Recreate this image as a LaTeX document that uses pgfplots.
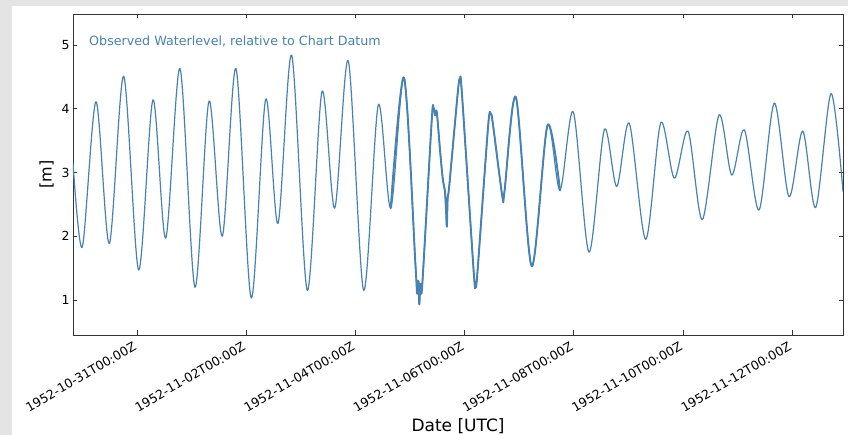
\documentclass[border=0pt]{standalone}
\usepackage{pgfplots}
\usepackage{pgfplotstable}
\pgfplotsset{compat=1.18}
\usepackage{fontspec}
\setmainfont{DejaVu Sans}
\definecolor{steel}{HTML}{4682B4}
\definecolor{bgray}{HTML}{E4E4E4}
% days since 1952-10-31T00:00Z, water level [m]
\pgfplotstableread{
d v
-1.172 3.15
-1.002 1.83
-0.751 4.11
-0.507 1.885
-0.244 4.51
0.031 1.47
0.293 4.14
0.526 1.97
0.788 4.63
1.062 1.20
1.319 4.12
1.562 2.00
1.813 4.63
2.093 1.03
2.357 4.15
2.582 2.20
2.833 4.84
3.119 1.15
3.388 4.27
3.621 2.44
3.870 4.75
4.152 1.15
4.419 4.06
4.647 2.44
4.890 4.49
5.10 1.55
5.13 1.1
5.155 1.3
5.17 0.93
5.19 1.25
5.21 1.1
5.25 1.6
5.40 3.85
5.43 4.02
5.46 3.9
5.49 3.95
5.55 3.35
5.60 2.9
5.64 2.7
5.66 2.4
5.675 2.15
5.69 2.6
5.72 2.8
5.88 4.3
5.915 4.45
5.95 4.25
6.17 1.4
6.20 1.28
6.23 1.38
6.43 3.72
6.48 3.92
6.52 3.75
6.69 2.63
6.73 2.7
6.94 4.18
7.229 1.53
7.518 3.74
7.747 2.72
7.991 3.95
8.278 1.75
8.559 3.67
8.786 2.78
9.016 3.77
9.317 1.95
9.592 3.78
9.841 2.91
10.092 3.65
10.353 2.26
10.659 3.90
10.892 2.96
11.123 3.67
11.392 2.41
11.672 4.09
11.941 2.62
12.192 3.65
12.430 2.45
12.711 4.24
12.93 2.70
}\level
% storm-surge stretch of the same record (noisy, drawn heavier)
\pgfplotstableread{
d v
4.647 2.44
4.890 4.49
5.10 1.55
5.13 1.1
5.155 1.3
5.17 0.93
5.19 1.25
5.21 1.1
5.25 1.6
5.40 3.85
5.43 4.02
5.46 3.9
5.49 3.95
5.55 3.35
5.60 2.9
5.64 2.7
5.66 2.4
5.675 2.15
5.69 2.6
5.72 2.8
5.88 4.3
5.915 4.45
5.95 4.25
6.17 1.4
6.20 1.28
6.23 1.38
6.43 3.72
6.48 3.92
6.52 3.75
6.69 2.63
6.73 2.7
6.94 4.18
7.229 1.53
7.518 3.74
7.747 2.72
}\storm
\begin{document}
\begin{tikzpicture}[x=1pt,y=1pt]
\fill[bgray] (0,0) rectangle (848,435);
\fill[white] (12,0) rectangle (848,429);
\begin{axis}[
  at={(73pt,100pt)}, anchor=south west,
  width=770pt, height=321pt, scale only axis,
  xmin=-1.172, xmax=12.93, ymin=0.451, ymax=5.486,
  xtick={0,2,4,6,8,10,12},
  xticklabels={1952-10-31T00:00Z,1952-11-02T00:00Z,1952-11-04T00:00Z,1952-11-06T00:00Z,1952-11-08T00:00Z,1952-11-10T00:00Z,1952-11-12T00:00Z},
  ytick={1,2,3,4,5},
  tick align=inside,
  major tick length=4.5pt,
  axis line style={black!80, line width=0.9pt},
  every tick/.style={black!80, line width=0.8pt},
  /pgf/number format/assume math mode=true,
  ticklabel style={font=\fontsize{12.5}{14}\selectfont},
  xticklabel style={xshift=-4pt, yshift=-5pt, rotate=30, anchor=north east, inner sep=1pt},
  xlabel={Date [UTC]}, ylabel={[m]},
  xlabel style={at={(axis description cs:0.5,-0.301)}, anchor=base, font=\fontsize{17}{20}\selectfont},
  ylabel style={at={(axis description cs:-0.0342,0.5)}, anchor=center, font=\fontsize{16}{19}\selectfont},
]
\addplot[steel, line width=1.2pt, line join=round, smooth, tension=0.5, no markers] table[x=d, y=v] {\level};
\addplot[steel, line width=1.9pt, line join=round, line cap=round, smooth, tension=0.5, no markers] table[x=d, y=v] {\storm};
\node[anchor=west, inner sep=0pt, text=steel, font=\fontsize{12.7}{15}\selectfont] at (rel axis cs:0.0208,0.916) {Observed Waterlevel, relative to Chart Datum};
\end{axis}
\pgfresetboundingbox
\useasboundingbox (0,0) rectangle (848,435);
\end{tikzpicture}
\end{document}
